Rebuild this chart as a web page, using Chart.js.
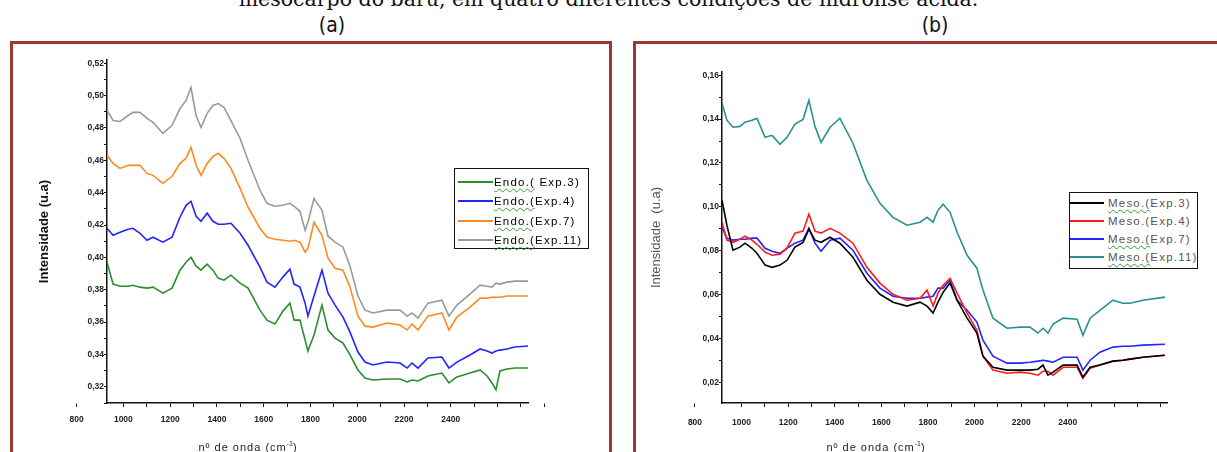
<!DOCTYPE html>
<html lang="pt">
<head>
<meta charset="utf-8">
<title>Espectros - endocarpo e mesocarpo do baru</title>
<script src="https://cdn.jsdelivr.net/npm/chart.js@4.4.1/dist/chart.umd.min.js"></script>
<style>
  html, body { margin: 0; padding: 0; background: #fff; }
  body { width: 1217px; height: 452px; position: relative; overflow: hidden; font-family: "Liberation Sans", Arial, sans-serif; }
  .legenda-fig { position: absolute; top: -11px; left: 0; width: 1217px; text-align: center; font: 20.5px/1 "DejaVu Serif", serif; color: #111; white-space: nowrap; }
  .letra { position: absolute; top: 15px; width: 40px; text-align: center; font: 21px/1 "Liberation Sans Narrow", "DejaVu Sans Condensed", sans-serif; color: #111; }
  .painel { position: absolute; top: 41px; height: 440px; border: 3px solid #9e3636; box-sizing: border-box; }
  canvas { position: absolute; }
  .leg { position: absolute; border: 1.5px solid #111; background: #fff; box-sizing: border-box; z-index: 2; }
  .leg .linha { position: absolute; height: 0; border-top: 2px solid; }
  .leg .txt { position: absolute; font-size: 11.5px; line-height: 14px; letter-spacing: 1.2px; white-space: nowrap; }
  .leg .sub { text-decoration: underline wavy #3c9a3c 1px; text-underline-offset: 2px; }
  .xtit { position: absolute; top: 440px; font-size: 11px; letter-spacing: 1px; color: #222; white-space: nowrap; transform: translateX(-50%); }
  .xtit sup { font-size: 7px; letter-spacing: 0; }
</style>
</head>
<body>

<div class="legenda-fig">mesocarpo do baru, em quatro diferentes condições de hidrólise ácida.</div>
<div class="letra" style="left:312px">(a)</div>
<div class="letra" style="left:915px">(b)</div>

<div class="painel" style="left:10px; width:602px"></div>
<div class="painel" style="left:633px; width:620px"></div>

<canvas id="graficoA" width="594" height="408" style="left:14px; top:44px"></canvas>
<canvas id="graficoB" width="580" height="408" style="left:637px; top:44px"></canvas>

<div class="leg" id="legA" style="left:454px; top:168px; width:135px; height:81px"></div>
<div class="leg" id="legB" style="left:1069px; top:192px; width:129px; height:77px"></div>

<div class="xtit" style="left:248px">nº de onda (cm<sup>-1</sup>)</div>
<div class="xtit" style="left:876px">nº de onda (cm<sup>-1</sup>)</div>

<script>
// Painel (a) - endocarpo
const numeroOndaA = [930, 956, 986, 1020, 1041, 1071, 1101, 1127, 1169, 1208,
  1242, 1268, 1289, 1311, 1332, 1358, 1383, 1405, 1430, 1460,
  1499, 1533, 1584, 1614, 1648, 1682, 1712, 1730, 1755, 1777,
  1789, 1815, 1849, 1875, 1905, 1939, 1969, 2003, 2033, 2067,
  2127, 2183, 2213, 2234, 2260, 2302, 2362, 2392, 2426, 2482,
  2525, 2555, 2576, 2593, 2610, 2640, 2674, 2730];

const endoExp3 = [0.3970, 0.3835, 0.3822, 0.3822, 0.3828, 0.3816, 0.3810, 0.3816, 0.3779, 0.3810,
  0.3921, 0.3970, 0.4001, 0.3946, 0.3921, 0.3958, 0.3921, 0.3872, 0.3859, 0.3890,
  0.3841, 0.3810, 0.3674, 0.3612, 0.3588, 0.3668, 0.3717, 0.3612, 0.3612, 0.3489,
  0.3421, 0.3520, 0.3705, 0.3551, 0.3501, 0.3471, 0.3397, 0.3304, 0.3255, 0.3242,
  0.3248, 0.3248, 0.3230, 0.3242, 0.3236, 0.3267, 0.3285, 0.3224, 0.3261, 0.3285,
  0.3304, 0.3267, 0.3224, 0.3181, 0.3298, 0.3310, 0.3316, 0.3316];

const endoExp4 = [0.4180, 0.4137, 0.4155, 0.4174, 0.4180, 0.4149, 0.4106, 0.4125, 0.4094, 0.4125,
  0.4248, 0.4322, 0.4347, 0.4254, 0.4223, 0.4273, 0.4223, 0.4205, 0.4205, 0.4211,
  0.4149, 0.4075, 0.3940, 0.3847, 0.3816, 0.3878, 0.3927, 0.3835, 0.3816, 0.3717,
  0.3637, 0.3761, 0.3921, 0.3779, 0.3705, 0.3631, 0.3538, 0.3415, 0.3353, 0.3335,
  0.3353, 0.3347, 0.3316, 0.3347, 0.3316, 0.3378, 0.3384, 0.3316, 0.3353, 0.3397,
  0.3434, 0.3421, 0.3409, 0.3421, 0.3427, 0.3434, 0.3446, 0.3452];

const endoExp7 = [0.4631, 0.4581, 0.4550, 0.4569, 0.4569, 0.4569, 0.4519, 0.4507, 0.4458, 0.4501,
  0.4581, 0.4612, 0.4680, 0.4569, 0.4507, 0.4581, 0.4624, 0.4643, 0.4612, 0.4550,
  0.4427, 0.4310, 0.4180, 0.4125, 0.4112, 0.4106, 0.4100, 0.4106, 0.4094, 0.4032,
  0.4057, 0.4217, 0.4137, 0.3995, 0.3933, 0.3921, 0.3816, 0.3637, 0.3575, 0.3569,
  0.3594, 0.3582, 0.3551, 0.3588, 0.3551, 0.3637, 0.3656, 0.3551, 0.3631, 0.3693,
  0.3748, 0.3748, 0.3754, 0.3754, 0.3754, 0.3761, 0.3761, 0.3761];

const endoExp11 = [0.4908, 0.4846, 0.4840, 0.4877, 0.4896, 0.4896, 0.4859, 0.4834, 0.4766, 0.4816,
  0.4920, 0.4970, 0.5050, 0.4877, 0.4803, 0.4890, 0.4939, 0.4951, 0.4927, 0.4846,
  0.4735, 0.4600, 0.4415, 0.4334, 0.4316, 0.4322, 0.4334, 0.4316, 0.4285, 0.4168,
  0.4217, 0.4365, 0.4291, 0.4131, 0.4094, 0.4063, 0.3946, 0.3761, 0.3674, 0.3656,
  0.3674, 0.3674, 0.3637, 0.3656, 0.3625, 0.3717, 0.3736, 0.3637, 0.3705, 0.3773,
  0.3828, 0.3822, 0.3816, 0.3841, 0.3835, 0.3847, 0.3853, 0.3853];

const nomesA = ['Endo.( Exp.3)', 'Endo.(Exp.4)', 'Endo.(Exp.7)', 'Endo.(Exp.11)'];

// Painel (b) - mesocarpo
const numeroOndaB = [916, 937, 963, 993, 1015, 1045, 1066, 1101, 1131, 1165,
  1195, 1229, 1264, 1289, 1315, 1341, 1380, 1422, 1478, 1538,
  1594, 1650, 1710, 1766, 1796, 1822, 1843, 1865, 1895, 1925,
  1968, 2010, 2036, 2079, 2139, 2195, 2238, 2272, 2294, 2315,
  2337, 2380, 2440, 2465, 2496, 2538, 2594, 2637, 2667, 2723,
  2817];

const mesoExp3 = [0.1030, 0.0916, 0.0802, 0.0816, 0.0834, 0.0811, 0.0788, 0.0734, 0.0724, 0.0734,
  0.0756, 0.0816, 0.0838, 0.0898, 0.0848, 0.0838, 0.0861, 0.0834, 0.0770, 0.0665,
  0.0601, 0.0565, 0.0547, 0.0565, 0.0547, 0.0515, 0.0565, 0.0610, 0.0652, 0.0574,
  0.0492, 0.0424, 0.0319, 0.0268, 0.0255, 0.0255, 0.0255, 0.0259, 0.0278, 0.0232,
  0.0246, 0.0278, 0.0278, 0.0223, 0.0268, 0.0278, 0.0296, 0.0300, 0.0305, 0.0314,
  0.0323];

const mesoExp4 = [0.0930, 0.0848, 0.0838, 0.0852, 0.0866, 0.0848, 0.0829, 0.0793, 0.0779, 0.0784,
  0.0811, 0.0880, 0.0889, 0.0966, 0.0889, 0.0880, 0.0902, 0.0880, 0.0834, 0.0724,
  0.0652, 0.0601, 0.0574, 0.0583, 0.0620, 0.0547, 0.0606, 0.0642, 0.0674, 0.0606,
  0.0515, 0.0437, 0.0319, 0.0255, 0.0241, 0.0246, 0.0241, 0.0232, 0.0250, 0.0250,
  0.0232, 0.0268, 0.0268, 0.0218, 0.0264, 0.0278, 0.0296, 0.0300, 0.0305, 0.0314,
  0.0323];

const mesoExp7 = [0.0907, 0.0857, 0.0848, 0.0852, 0.0852, 0.0857, 0.0857, 0.0811, 0.0797, 0.0788,
  0.0811, 0.0834, 0.0848, 0.0902, 0.0834, 0.0797, 0.0848, 0.0857, 0.0802, 0.0697,
  0.0629, 0.0592, 0.0583, 0.0583, 0.0588, 0.0592, 0.0629, 0.0629, 0.0665, 0.0574,
  0.0528, 0.0474, 0.0392, 0.0319, 0.0287, 0.0287, 0.0291, 0.0296, 0.0300, 0.0296,
  0.0291, 0.0314, 0.0314, 0.0255, 0.0300, 0.0337, 0.0360, 0.0364, 0.0364, 0.0369,
  0.0373];

const mesoExp11 = [0.1472, 0.1395, 0.1363, 0.1367, 0.1386, 0.1395, 0.1404, 0.1317, 0.1326, 0.1285,
  0.1317, 0.1377, 0.1399, 0.1486, 0.1367, 0.1294, 0.1363, 0.1404, 0.1290, 0.1121,
  0.1016, 0.0952, 0.0916, 0.0930, 0.0952, 0.0930, 0.0984, 0.1012, 0.0975, 0.0884,
  0.0779, 0.0720, 0.0620, 0.0492, 0.0446, 0.0451, 0.0451, 0.0424, 0.0446, 0.0424,
  0.0465, 0.0492, 0.0487, 0.0414, 0.0492, 0.0528, 0.0574, 0.0560, 0.0560, 0.0574,
  0.0588];

const nomesB = ['Meso.(Exp.3)', 'Meso.(Exp.4)', 'Meso.(Exp.7)', 'Meso.(Exp.11)'];

// Marcas do eixo x (a de 800 fica fora da área, só o rótulo aparece)
const marcasX = [800, 1000, 1100, 1200, 1300, 1400, 1500, 1600, 1700, 1800, 1900, 2000, 2100, 2200, 2300, 2400, 2500, 2600, 2700, 2800];
const rotulosX = [800, 1000, 1200, 1400, 1600, 1800, 2000, 2200, 2400];

function pares(xs, ys) {
    return xs.map((x, i) => ({ x: x, y: ys[i] }));
}

function criarGrafico(id, xs, series, cores, nomes, cfg) {
    const ctx = document.getElementById(id).getContext('2d');
    const fonteTick = { family: 'Liberation Sans', size: 8.5, weight: 'bold' };

    return new Chart(ctx, {
        type: 'line',
        data: {
            datasets: series.map((s, i) => ({
                label: nomes[i],
                data: pares(xs, s),
                borderColor: cores[i],
                borderWidth: 1.6,
                pointRadius: 0,
                tension: 0,
                fill: false
            }))
        },
        options: {
            responsive: false,
            animation: false,
            events: [],
            layout: { padding: { top: cfg.topo, right: cfg.direita, left: 0, bottom: 0 } },
            plugins: { legend: { display: false }, tooltip: { enabled: false } },
            scales: {
                x: {
                    type: 'linear',
                    min: cfg.xMin,
                    max: cfg.xMax,
                    afterBuildTicks: eixo => { eixo.ticks = marcasX.map(v => ({ value: v })); },
                    afterFit: eixo => { eixo.height = 49; },
                    grid: { drawOnChartArea: false, drawTicks: true, tickLength: 4, tickColor: '#111', tickWidth: 1 },
                    border: { display: true, color: '#111', width: 1.5 },
                    ticks: {
                        autoSkip: false,
                        maxRotation: 0,
                        padding: cfg.padX,
                        color: '#222',
                        font: fonteTick,
                        callback: v => rotulosX.includes(v) ? String(v) : ''
                    }
                },
                y: {
                    type: 'linear',
                    min: cfg.yMin,
                    max: cfg.yMax,
                    afterBuildTicks: eixo => {
                        const marcas = [];
                        for (let c = cfg.yDe; c <= cfg.yAte; c++) marcas.push({ value: c / 100 });
                        eixo.ticks = marcas;
                    },
                    afterFit: eixo => { eixo.width = cfg.largY; },
                    grid: { drawOnChartArea: false, drawTicks: true, tickLength: 3, tickColor: '#111', tickWidth: 1 },
                    border: { display: true, color: '#111', width: 1.5 },
                    ticks: {
                        autoSkip: false,
                        padding: 0,
                        color: '#222',
                        font: fonteTick,
                        callback: v => Math.round(v * 100) % 2 === 0 ? v.toFixed(2).replace('.', ',') : ''
                    },
                    title: {
                        display: true,
                        text: cfg.tituloY,
                        color: cfg.corTitulo,
                        font: { family: 'Liberation Sans', size: 13, weight: cfg.pesoTitulo },
                        padding: { top: cfg.padTitulo, bottom: 0 }
                    }
                }
            }
        }
    });
}

// Legenda em caixa, feita a partir dos datasets
function montarLegenda(grafico, idCaixa, est) {
    const caixa = document.getElementById(idCaixa);
    grafico.data.datasets.forEach((ds, i) => {
        const cy = est.y0 + i * est.passo;
        const linha = document.createElement('div');
        linha.className = 'linha';
        linha.style.borderTopColor = ds.borderColor;
        linha.style.left = est.linhaX + 'px';
        linha.style.width = est.linhaL + 'px';
        linha.style.top = (cy - 1) + 'px';
        caixa.appendChild(linha);

        const txt = document.createElement('div');
        txt.className = 'txt';
        txt.style.left = est.textoX + 'px';
        txt.style.top = (cy - 7) + 'px';
        txt.style.color = est.cor;
        const corte = ds.label.indexOf('(') + 1;
        const pre = document.createElement('span');
        pre.textContent = ds.label.slice(0, corte);
        if (est.sublinhar.includes(i)) pre.className = 'sub';
        txt.appendChild(pre);
        txt.appendChild(document.createTextNode(ds.label.slice(corte)));
        caixa.appendChild(txt);
    });
}

const graficoA = criarGrafico('graficoA', numeroOndaA,
    [endoExp3, endoExp4, endoExp7, endoExp11],
    ['#2e8b2e', '#2424ff', '#ff8a1c', '#9a9a9a'], nomesA,
    { xMin: 930, xMax: 2730, yMin: 0.31, yMax: 0.522, yDe: 31, yAte: 52,
      topo: 16, direita: 80, largY: 93, padX: 8,
      tituloY: 'Intensidade (u.a)', corTitulo: '#111', pesoTitulo: 'bold', padTitulo: 23 });

const graficoB = criarGrafico('graficoB', numeroOndaB,
    [mesoExp3, mesoExp4, mesoExp7, mesoExp11],
    ['#000000', '#ff1a1a', '#2424ff', '#2a9090'], nomesB,
    { xMin: 916, xMax: 2826, yMin: 0.0105, yMax: 0.1615, yDe: 2, yAte: 16,
      topo: 28, direita: 50, largY: 85, padX: 11,
      tituloY: 'Intensidade  (u.a)', corTitulo: '#555', pesoTitulo: 'normal', padTitulo: 12 });

montarLegenda(graficoA, 'legA', { y0: 13, passo: 19.3, linhaX: 3, linhaL: 35, textoX: 39, cor: '#000', sublinhar: [0, 1, 2, 3] });
montarLegenda(graficoB, 'legB', { y0: 10, passo: 18, linhaX: 0, linhaL: 34, textoX: 38, cor: '#555', sublinhar: [0, 2, 3] });
</script>
</body>
</html>
